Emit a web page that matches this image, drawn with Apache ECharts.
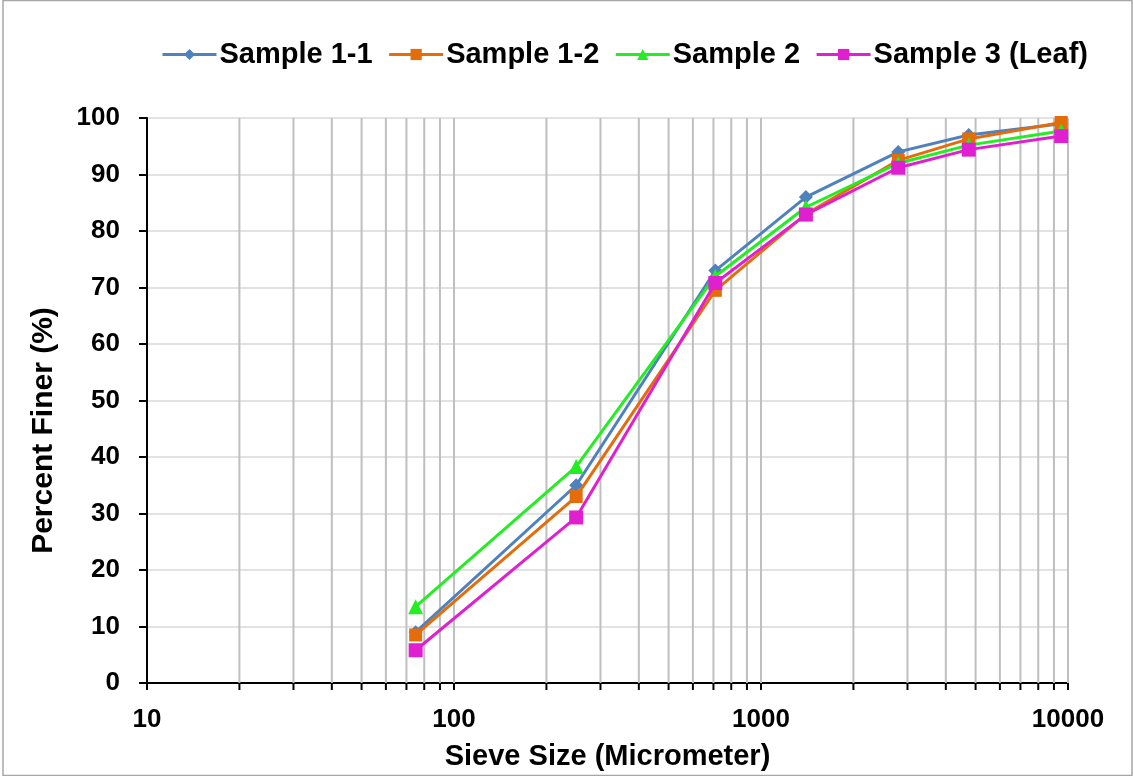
<!DOCTYPE html>
<html><head><meta charset="utf-8">
<script src="https://cdn.jsdelivr.net/npm/echarts@6/dist/echarts.min.js"></script>
<style>html,body{margin:0;padding:0;background:#fff}#c{width:1133px;height:776px}</style>
</head><body><div id="c"></div>
<script>
const sizes = [75, 250, 710, 1400, 2800, 4750, 9500];
const s11 = [9, 35, 73, 86, 94, 97, 99];
const s12 = [8.5, 33, 69.5, 83, 92.5, 96.3, 99.2];
const s2 = [13.5, 38.3, 72, 84.2, 92, 95.2, 97.7];
const s3 = [5.8, 29.3, 70.8, 82.9, 91.2, 94.4, 96.8];
const names = ['Sample 1-1', 'Sample 1-2', 'Sample 2', 'Sample 3 (Leaf)'];
const xTicks = [10, 100, 1000, 10000];
const yMin = 0, yMax = 100, yStep = 10;

const minorVals = [];
for (let d = 0; d < xTicks.length - 1; d++) {
  for (let k = 2; k <= 10; k++) minorVals.push(xTicks[d] * k);
}
const font = 'Liberation Sans, Arial, sans-serif';
const colors = ['#4F81BD', '#E46C0A', '#22EE22', '#E020D0'];
const symbols = ['diamond', 'rect', 'triangle', 'rect'];
const symSizes = [14, 13, 15, 14];
const series = [s11, s12, s2, s3].map((arr, i) => ({
  name: names[i], type: 'line', z: 10 + i,
  data: sizes.map((x, j) => [x, arr[j]]),
  symbol: symbols[i], symbolSize: symSizes[i], showSymbol: true,
  itemStyle: { color: colors[i] },
  lineStyle: { color: colors[i], width: 3 }
}));
series.unshift({
  type: 'custom', z: 1, silent: true,
  data: minorVals.map(v => [v]),
  renderItem: function (params, api) {
    const v = api.value(0);
    const top = api.coord([v, yMax]);
    const bot = api.coord([v, yMin]);
    return { type: 'group', children: [
      { type: 'line', shape: { x1: top[0], y1: top[1], x2: bot[0], y2: bot[1] }, style: { stroke: '#bfbfbf', lineWidth: 2 } },
      { type: 'line', shape: { x1: bot[0], y1: bot[1], x2: bot[0], y2: bot[1] + 7 }, style: { stroke: '#000', lineWidth: 2 } }
    ]};
  }
});
const chart = echarts.init(document.getElementById('c'), null, { renderer: 'canvas' });
chart.setOption({
  animation: false,
  backgroundColor: '#fff',
  graphic: [{ type: 'rect', shape: { x: 3, y: 0.5, width: 1129, height: 775 }, style: { fill: 'none', stroke: '#a6a6a6', lineWidth: 1.5 }, z: 0 }],
  legend: {
    data: names, left: 156, top: 35, itemWidth: 54, itemHeight: 14, itemGap: 15,
    lineStyle: { width: 3 },
    textStyle: { fontFamily: font, fontWeight: 'bold', fontSize: 29, color: '#000', padding: [0, 0, 0, -2] }
  },
  grid: { left: 147, right: 65, top: 118, bottom: 90 },
  xAxis: {
    type: 'log', logBase: 10, min: 10, max: 10000,
    name: 'Sieve Size (Micrometer)', nameLocation: 'middle', nameGap: 59,
    nameTextStyle: { fontFamily: font, fontWeight: 'bold', fontSize: 29, color: '#000' },
    axisLine: { lineStyle: { color: '#000', width: 2 } },
    axisTick: { show: true, length: 7, lineStyle: { color: '#000', width: 2 } },
    axisLabel: { fontFamily: font, fontWeight: 'bold', fontSize: 26, color: '#000', margin: 24,
      formatter: v => String(Math.round(v)) },
    splitLine: { show: true, lineStyle: { color: '#bfbfbf', width: 2 } }
  },
  yAxis: {
    type: 'value', min: yMin, max: yMax, interval: yStep,
    name: 'Percent Finer (%)', nameLocation: 'middle', nameGap: 88, nameRotate: 90,
    nameTextStyle: { fontFamily: font, fontWeight: 'bold', fontSize: 30, color: '#000', padding: [0, 60, 0, 0] },
    axisLine: { show: true, lineStyle: { color: '#000', width: 2 } },
    axisTick: { show: true, length: 8, lineStyle: { color: '#000', width: 2 } },
    axisLabel: { fontFamily: font, fontWeight: 'bold', fontSize: 26, color: '#000', margin: 27 },
    splitLine: { show: true, lineStyle: { color: '#d9d9d9', width: 1.5 } }
  },
  series: series
});
</script></body></html>
